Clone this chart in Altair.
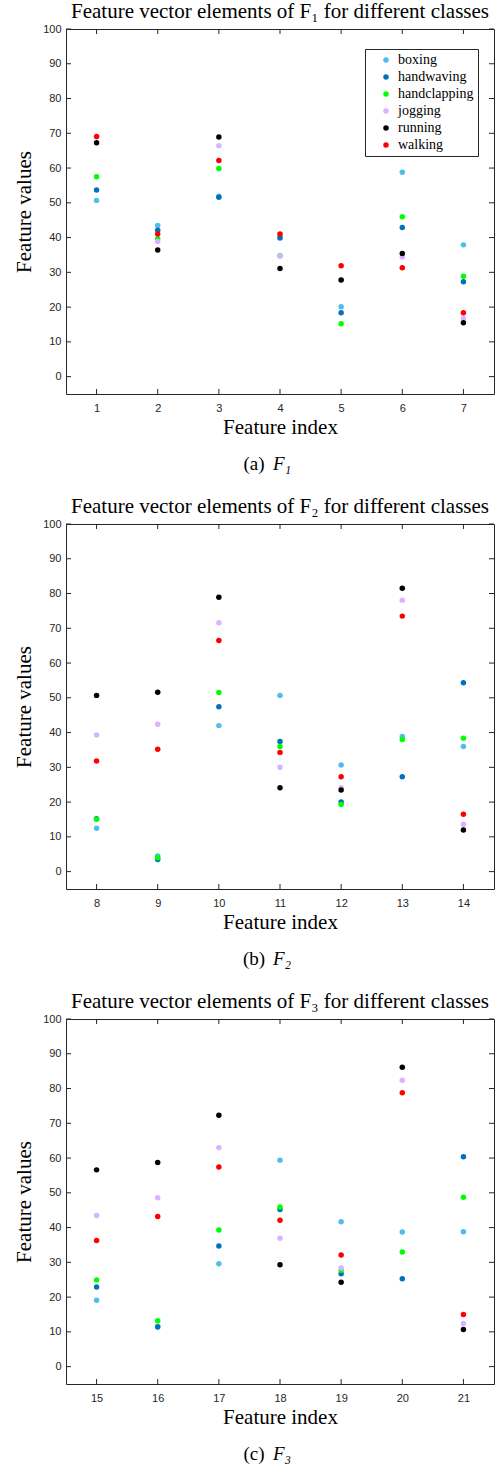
import altair as alt
import pandas as pd

classes = ["boxing", "handwaving", "handclapping", "jogging", "running", "walking"]
colors = ["#4DBEEE", "#0072BD", "#00FF00", "#D9B3FF", "#000000", "#FF0000"]
feature_index = list(range(1, 22))

boxing = [50.7, 43.5, 51.9, 40.3, 20.1, 58.8, 37.9,
          12.5, 4.5, 42.0, 50.7, 30.7, 38.9, 36.0,
          19.1, 11.6, 29.6, 59.4, 41.7, 38.7, 38.8]
handwaving = [53.7, 42.1, 51.6, 39.9, 18.4, 42.9, 27.3,
              15.2, 3.5, 47.4, 37.4, 20.0, 27.3, 54.3,
              22.9, 11.4, 34.7, 45.2, 26.7, 25.3, 60.4]
handclapping = [57.5, 39.7, 59.9, 34.8, 15.2, 46.0, 28.9,
                15.1, 4.0, 51.5, 36.0, 19.3, 38.0, 38.4,
                24.9, 13.2, 39.3, 45.9, 27.7, 33.0, 48.7]
jogging = [69.0, 38.9, 66.4, 34.7, 27.8, 34.4, 16.8,
           39.3, 42.4, 71.6, 30.0, 24.1, 78.1, 13.6,
           43.5, 48.6, 63.0, 36.9, 28.4, 82.4, 12.4]
running = [67.3, 36.4, 68.9, 31.1, 27.8, 35.4, 15.5,
           50.7, 51.6, 78.9, 24.1, 23.5, 81.5, 12.0,
           56.6, 58.7, 72.3, 29.3, 24.3, 86.1, 10.7]
walking = [69.1, 41.0, 62.2, 41.0, 31.9, 31.3, 18.4,
           31.8, 35.2, 66.5, 34.3, 27.3, 73.5, 16.5,
           36.3, 43.2, 57.4, 42.1, 32.1, 78.8, 15.0]

y_ticks = [0, 10, 20, 30, 40, 50, 60, 70, 80, 90, 100]
titles = ["Feature vector elements of F\u2081 for different classes",
          "Feature vector elements of F\u2082 for different classes",
          "Feature vector elements of F\u2083 for different classes"]
captions = ["(a)", "(b)", "(c)"]
subs = ["F\u2081", "F\u2082", "F\u2083"]
legend_pos = [(299, 20), (14, 10), (13, 19)]

series = dict(zip(classes, [boxing, handwaving, handclapping, jogging, running, walking]))

W, H = 428, 365
SERIF = "Liberation Serif"
SANS = "Liberation Sans"
DARK = "#262626"


def panel(k):
    idx = feature_index[7 * k:7 * k + 7]
    rows = []
    for c in classes:
        for i, v in zip(idx, series[c][7 * k:7 * k + 7]):
            rows.append({"idx": i, "val": v, "cls": c})
    df = pd.DataFrame(rows)
    xscale = alt.Scale(domain=[idx[0] - 0.5, idx[-1] + 0.5], nice=False, zero=False)
    yscale = alt.Scale(domain=[-5, 100], nice=False, zero=False)
    xaxis = alt.Axis(values=idx, title="Feature index", ticks=False, domain=False, grid=False,
                     labelPadding=8, titlePadding=3, format="d")
    yaxis = alt.Axis(values=y_ticks, title="Feature values", ticks=False, domain=False, grid=False,
                     labelPadding=5, titlePadding=8)
    lx, ly = legend_pos[k]
    pts = alt.Chart(df).mark_circle(size=30, opacity=1).encode(
        x=alt.X("idx:Q", scale=xscale, axis=xaxis),
        y=alt.Y("val:Q", scale=yscale, axis=yaxis),
        color=alt.Color("cls:N", scale=alt.Scale(domain=classes, range=colors),
                        legend=alt.Legend(orient="none", legendX=lx, legendY=ly, title=None,
                                          strokeColor=DARK, fillColor="white", padding=4,
                                          labelFont=SERIF, labelFontSize=14, labelColor="black",
                                          symbolType="circle", symbolSize=30, symbolOpacity=1,
                                          symbolStrokeWidth=0, symbolOffset=10, labelOffset=5,
                                          rowPadding=3)),
    )
    xt = pd.DataFrame({"idx": idx})
    yt = pd.DataFrame({"val": y_ticks})
    tb = alt.Chart(xt).mark_rule(color=DARK).encode(
        x=alt.X("idx:Q", scale=xscale, axis=xaxis), y=alt.value(H), y2=alt.value(H - 5))
    tt = alt.Chart(xt).mark_rule(color=DARK).encode(
        x=alt.X("idx:Q", scale=xscale, axis=xaxis), y=alt.value(0), y2=alt.value(5))
    tl = alt.Chart(yt).mark_rule(color=DARK).encode(
        y=alt.Y("val:Q", scale=yscale, axis=yaxis), x=alt.value(0), x2=alt.value(5))
    tr = alt.Chart(yt).mark_rule(color=DARK).encode(
        y=alt.Y("val:Q", scale=yscale, axis=yaxis), x=alt.value(W - 5), x2=alt.value(W))
    cap1 = alt.Chart(pd.DataFrame({"t": [captions[k]]})).mark_text(
        font=SERIF, fontSize=19, baseline="middle", align="center", color="black").encode(
        text="t:N", x=alt.value(188), y=alt.value(H + 70))
    cap2 = alt.Chart(pd.DataFrame({"t": [subs[k]]})).mark_text(
        font=SERIF, fontSize=19, fontStyle="italic", baseline="middle", align="center",
        color="black").encode(text="t:N", x=alt.value(216), y=alt.value(H + 70))
    return alt.layer(tb, tt, tl, tr, pts, cap1, cap2).properties(
        width=W, height=H,
        title=alt.TitleParams(titles[k], font=SERIF, fontSize=21, fontWeight="normal",
                              anchor="middle", color="black", offset=1))


chart = alt.vconcat(panel(0), panel(1), panel(2), spacing=130, bounds="flush").configure(
    padding={"left": 13, "top": 0, "right": 0, "bottom": 0}
).configure_view(stroke=DARK, strokeWidth=1).configure_axis(
    labelFont=SANS, labelFontSize=11, labelColor=DARK,
    titleFont=SERIF, titleFontSize=21, titleFontWeight="normal", titleColor="black"
)

chart.save("out.html", embed_options={"renderer": "svg", "actions": False})
